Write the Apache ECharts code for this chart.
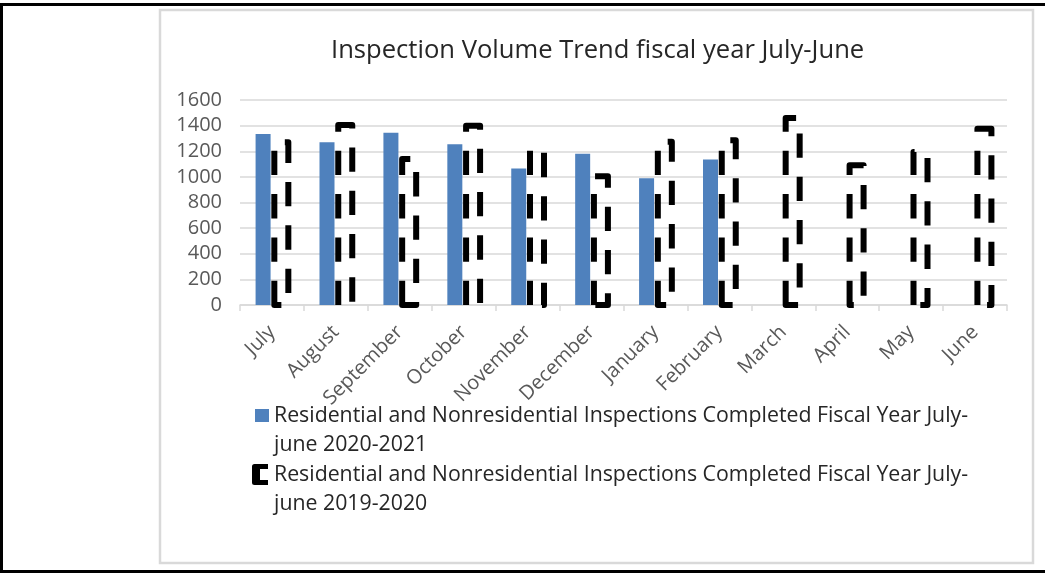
<!DOCTYPE html>
<html>
<head>
<meta charset="utf-8">
<script src="https://cdn.jsdelivr.net/npm/echarts@6/dist/echarts.min.js"></script>
<style>
html,body{margin:0;padding:0;background:#fff;}
#chart{width:1045px;height:576px;}
</style>
</head>
<body>
<div id="chart"></div>
<script>
const months = ['July','August','September','October','November','December','January','February','March','April','May','June'];
const fy2021 = [1335, 1270, 1345, 1255, 1065, 1180, 990, 1135, null, null, null, null];
const fy2020 = [1270, 1405, 1140, 1400, 1215, 1005, 1275, 1285, 1460, 1090, 1195, 1375];
const yTicks = {min: 0, max: 1600, interval: 200};
const seriesNames = [
  'Residential and Nonresidential Inspections Completed Fiscal Year July-june 2020-2021',
  'Residential and Nonresidential Inspections Completed Fiscal Year July-june 2019-2020'
];
const titleText = 'Inspection Volume Trend fiscal year July-June';

const FONT = '"Open Sans", sans-serif';
const BAR_W = [15, 14];
const GAP = 0.25;
// offset of the 2019-2020 bar inside its category (same rule ECharts uses for grouped bars)
const groupW = BAR_W[0] * (1 + GAP) + BAR_W[1];
const darkOffset = -groupW / 2 + BAR_W[0] * (1 + GAP);

// invisible corner points keep both legend icons in the same 17x50 frame
const FRAME = ' M0,-6L0.01,-6L0,-5.99Z M17,44L16.99,44L17,43.99Z';

function renderOutline(params, api) {
  const idx = api.value(0);
  const base = api.coord([idx, 0]);
  const top = api.coord([idx, api.value(1)]);
  const x0 = base[0] + darkOffset;
  const x1 = x0 + BAR_W[1];
  return {
    type: 'polygon',
    shape: {points: [[x0, base[1]], [x0, top[1]], [x1, top[1]], [x1, base[1]]]},
    style: {fill: 'none', stroke: '#000000', lineWidth: 6, lineDash: [24.3, 19],
            lineCap: 'butt', lineJoin: 'round'}
  };
}

const chart = echarts.init(document.getElementById('chart'), null, {renderer: 'canvas'});
chart.setOption({
  animation: false,
  backgroundColor: '#ffffff',
  title: {
    text: titleText,
    left: 326,
    top: 33,
    textStyle: {fontFamily: FONT, fontSize: 25.6, fontWeight: 'normal', color: '#262626'}
  },
  grid: {left: 240, right: 38, top: 100, bottom: 271, containLabel: false},
  legend: {
    orient: 'vertical',
    left: 252,
    top: 401,
    padding: 0,
    itemWidth: 17,
    itemHeight: 50,
    itemGap: 1,
    selectedMode: false,
    data: [
      {name: seriesNames[0], icon: 'path://M3,-2H17V11H3Z' + FRAME,
       itemStyle: {color: '#4f81bd', borderWidth: 0}},
      {name: seriesNames[1], icon: 'path://M2.5,-6H16V-1H8V10H16V15H2.5Q0,15 0,12.5V-3.5Q0,-6 2.5,-6Z' + FRAME,
       itemStyle: {color: '#000000', borderWidth: 0}}
    ],
    formatter: function (name) { return name.replace('July-', 'July-\n'); },
    textStyle: {fontFamily: FONT, fontSize: 21.3, color: '#262626', lineHeight: 29}
  },
  xAxis: {
    type: 'category',
    data: months,
    axisLine: {lineStyle: {color: '#d9d9d9', width: 1.5}},
    axisTick: {show: true, alignWithLabel: false, length: 6, lineStyle: {color: '#d9d9d9', width: 1.5}},
    axisLabel: {rotate: 45, margin: 24, fontFamily: FONT, fontSize: 20, color: '#595959', interval: 0}
  },
  yAxis: {
    type: 'value',
    min: yTicks.min, max: yTicks.max, interval: yTicks.interval,
    axisLine: {show: false},
    axisTick: {show: false},
    splitLine: {lineStyle: {color: '#d9d9d9', width: 1.5}},
    axisLabel: {margin: 18, fontFamily: FONT, fontSize: 20, color: '#595959',
                formatter: function (v) { return String(v); }}
  },
  series: [
    {
      name: seriesNames[0],
      type: 'bar',
      data: fy2021,
      barWidth: BAR_W[0],
      barGap: (GAP * 100) + '%',
      itemStyle: {color: '#4f81bd'}
    },
    {
      // keeps the grouped-bar slot of the 2019-2020 series; its outline is drawn below
      name: seriesNames[1],
      type: 'bar',
      data: fy2020,
      barWidth: BAR_W[1],
      barGap: (GAP * 100) + '%',
      itemStyle: {color: 'rgba(255,255,255,0)', borderWidth: 0}
    },
    {
      name: seriesNames[1],
      type: 'custom',
      renderItem: renderOutline,
      data: fy2020.map(function (v, i) { return [i, v]; }),
      encode: {x: 0, y: 1},
      z: 3
    }
  ],
  graphic: [
    {type: 'rect', silent: true, z: -10, shape: {x: 160, y: 10, width: 873, height: 553},
     style: {fill: 'none', stroke: '#d9d9d9', lineWidth: 2.5}},
    {type: 'rect', silent: true, z: -10, shape: {x: 1.5, y: 4.5, width: 1060, height: 567},
     style: {fill: 'none', stroke: '#000000', lineWidth: 3}}
  ]
});
</script>
</body>
</html>
